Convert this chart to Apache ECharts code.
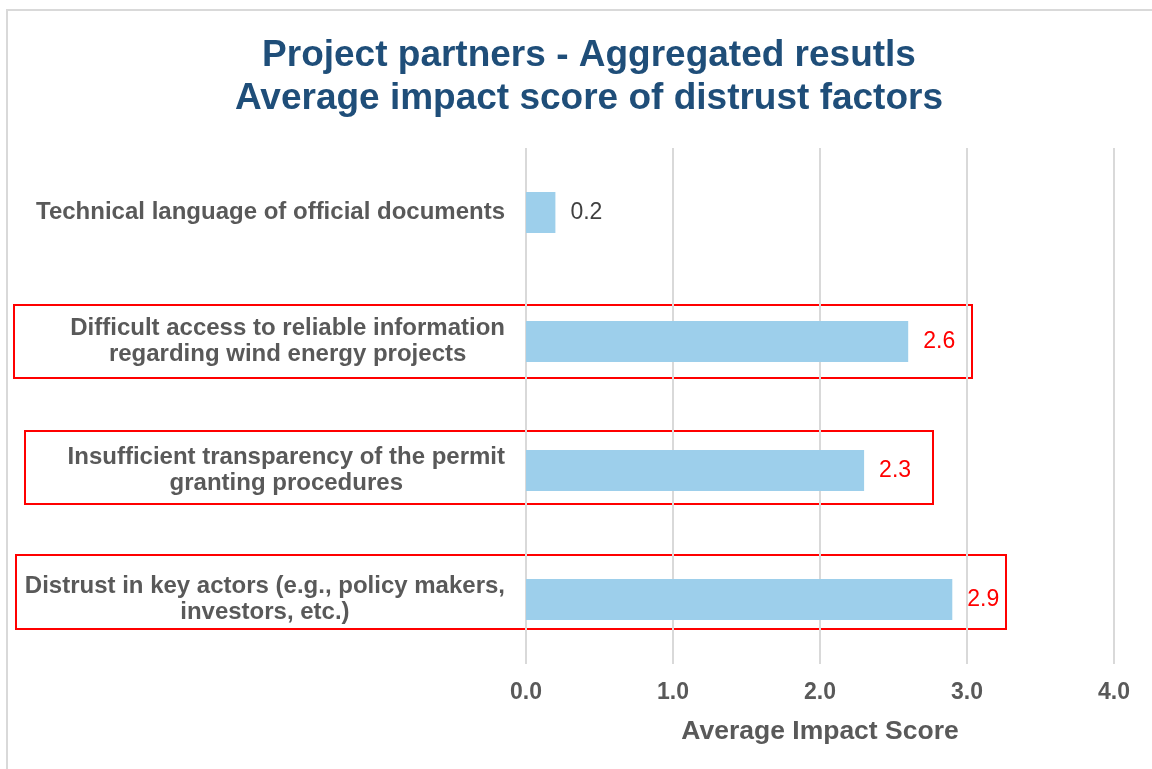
<!DOCTYPE html>
<html>
<head>
<meta charset="utf-8">
<script src="https://cdn.jsdelivr.net/npm/echarts@6/dist/echarts.min.js"></script>
<style>
html,body{margin:0;padding:0;background:#fff;}
#chart{width:1152px;height:769px;}
</style>
</head>
<body>
<div id="chart"></div>
<script>
const categories = [
  ['Technical language of official documents'],
  ['Difficult access to reliable information', 'regarding wind energy projects'],
  ['Insufficient transparency of the permit', 'granting procedures'],
  ['Distrust in key actors (e.g., policy makers,', 'investors, etc.)']
];
const values = [0.2, 2.6, 2.3, 2.9];
const highlighted = [false, true, true, true];
const xTicks = [0, 1, 2, 3, 4];

const FONT = '"Liberation Sans", Arial, sans-serif';
const chart = echarts.init(document.getElementById('chart'));
const catNames = categories.map(c => c.join('\n'));

chart.setOption({
  animation: false,
  title: {
    text: 'Project partners - Aggregated resutls\nAverage impact score of distrust factors',
    left: 584,
    textAlign: 'center',
    top: 29,
    textStyle: {
      fontFamily: FONT,
      fontWeight: 'bold',
      fontSize: 37,
      lineHeight: 43,
      color: '#1F4E79'
    }
  },
  grid: { left: 526, right: 38, top: 148, bottom: 105, containLabel: false },
  xAxis: {
    type: 'value',
    min: xTicks[0],
    max: xTicks[xTicks.length - 1],
    interval: 1,
    axisLine: { show: false },
    axisTick: { show: false },
    splitLine: { show: true, lineStyle: { color: '#D9D9D9', width: 2 } },
    axisLabel: {
      margin: 17,
      formatter: v => v.toFixed(1),
      fontFamily: FONT,
      fontWeight: 'bold',
      fontSize: 23,
      color: '#595959'
    },
    name: 'Average Impact Score',
    nameLocation: 'middle',
    nameGap: 54,
    nameTextStyle: {
      fontFamily: FONT,
      fontWeight: 'bold',
      fontSize: 26.5,
      color: '#595959'
    }
  },
  yAxis: {
    type: 'category',
    inverse: true,
    data: catNames,
    axisLine: { show: false },
    axisTick: { show: false },
    axisLabel: {
      margin: 21,
      align: 'right',
      formatter: v => v.split('\n').map(l => '{a|' + l + '}').join('\n'),
      rich: {
        a: {
          align: 'center',
          fontFamily: FONT,
          fontWeight: 'bold',
          fontSize: 24,
          lineHeight: 26,
          color: '#595959'
        }
      }
    }
  },
  series: [{
    type: 'bar',
    data: values.map((v, i) => ({
      value: v,
      label: { color: highlighted[i] ? '#FF0000' : '#404040' }
    })),
    barWidth: 41,
    itemStyle: { color: '#9DCFEB' },
    label: {
      show: true,
      position: 'right',
      distance: 15,
      formatter: p => p.value.toFixed(1),
      fontFamily: FONT,
      fontSize: 23
    }
  }],
  graphic: [
    { type: 'rect', shape: { x: 7, y: 10, width: 1300, height: 900 }, style: { fill: 'none', stroke: '#D9D9D9', lineWidth: 2 }, silent: true },
    { type: 'rect', shape: { x: 14, y: 305, width: 958, height: 73 }, style: { fill: 'none', stroke: '#FF0000', lineWidth: 2 }, silent: true },
    { type: 'rect', shape: { x: 25, y: 431, width: 908, height: 73 }, style: { fill: 'none', stroke: '#FF0000', lineWidth: 2 }, silent: true },
    { type: 'rect', shape: { x: 16, y: 555, width: 990, height: 74 }, style: { fill: 'none', stroke: '#FF0000', lineWidth: 2 }, silent: true }
  ]
});
</script>
</body>
</html>
